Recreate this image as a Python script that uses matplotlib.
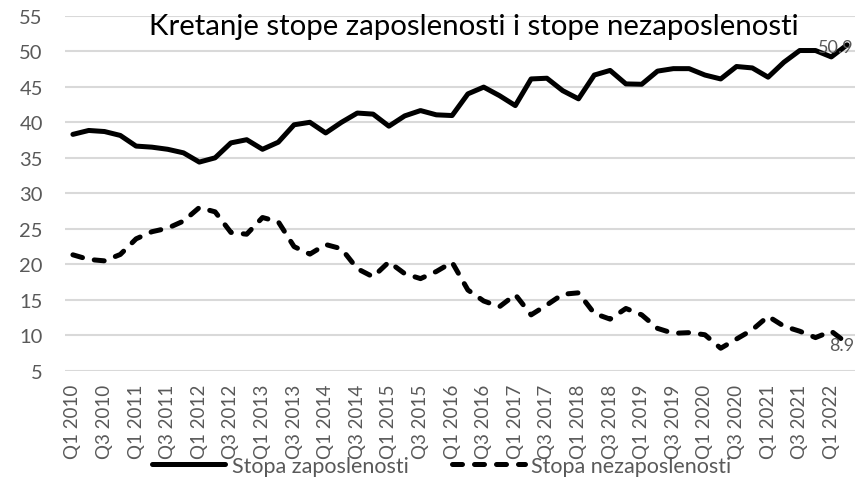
import matplotlib

matplotlib.use("Agg")
import matplotlib.pyplot as plt

plt.rcParams["font.family"] = ["Lato", "DejaVu Sans"]

# quarterly data, Q1 2010 .. Q2 2022
quarters = [f"Q{q} {y}" for y in range(2010, 2023) for q in (1, 2, 3, 4)][:50]

zaposlenost = [
    38.3, 38.85, 38.7, 38.15, 36.65, 36.5, 36.2, 35.7, 34.4, 35.0,
    37.1, 37.55, 36.2, 37.2, 39.65, 40.0, 38.5, 40.0, 41.3, 41.15,
    39.45, 40.9, 41.65, 41.05, 40.95, 44.0, 44.95, 43.75, 42.35, 46.1,
    46.2, 44.45, 43.3, 46.65, 47.3, 45.4, 45.35, 47.2, 47.55, 47.55,
    46.65, 46.1, 47.85, 47.65, 46.35, 48.45, 50.1, 50.1, 49.2, 50.9,
]
nezaposlenost = [
    21.35, 20.7, 20.5, 21.4, 23.6, 24.6, 25.1, 26.1, 28.0, 27.4,
    24.5, 24.25, 26.6, 26.0, 22.5, 21.45, 22.8, 22.2, 19.4, 18.25,
    20.35, 18.7, 18.0, 19.0, 20.3, 16.4, 14.85, 14.05, 15.75, 12.9,
    14.3, 15.8, 16.0, 13.1, 12.3, 13.8, 12.9, 11.0, 10.3, 10.4,
    10.1, 8.2, 9.5, 10.8, 12.7, 11.3, 10.6, 9.7, 10.6, 8.9,
]

title = "Kretanje stope zaposlenosti i stope nezaposlenosti"
label_zap = "Stopa zaposlenosti"
label_nezap = "Stopa nezaposlenosti"

GRAY = "#595959"
GRID = "#d9d9d9"

fig = plt.figure(figsize=(8.62, 4.81), dpi=100)
ax = fig.add_axes([65 / 862, 1 - 372 / 481, 790 / 862, (372 - 16.7) / 481])

x = list(range(len(quarters)))
ax.plot(x, zaposlenost, color="black", linewidth=3.6, solid_capstyle="round",
        solid_joinstyle="round", label=label_zap, zorder=3)
ax.plot(x, nezaposlenost, color="black", linewidth=3.6, linestyle=(0, (2.0, 2.4)),
        dash_capstyle="round", dash_joinstyle="round", label=label_nezap, zorder=3)

ax.set_xlim(-0.5, len(quarters) - 0.5)
ax.set_ylim(5, 55)
ax.set_yticks(range(5, 56, 5))
ax.set_xticks(x[::2])
ax.set_xticklabels(quarters[::2], rotation=90, fontsize=13.5, color=GRAY)
ax.tick_params(axis="y", length=0, pad=16, labelsize=14.5, labelcolor=GRAY)
ax.tick_params(axis="x", length=0, pad=9)
ax.grid(axis="y", color=GRID, linewidth=1.5)
ax.set_axisbelow(True)
for s in ax.spines.values():
    s.set_visible(False)

# end-of-series value labels
for series in (zaposlenost, nezaposlenost):
    ax.annotate(f"{series[-1]:.1f}", (x[-1], series[-1]), xytext=(7, -2),
                textcoords="offset pixels", ha="right", va="center",
                fontsize=13, color=GRAY, zorder=4)

fig.text(473.5 / 862, 1 - 27 / 481, title, ha="center", va="center",
         fontsize=21.2, color="black")

leg = fig.legend(loc="center", bbox_to_anchor=(442 / 862, 1 - 467 / 481), ncol=2,
                 frameon=False, fontsize=15.5, labelcolor=GRAY, handlelength=3.4,
                 handletextpad=0.3, columnspacing=2.0, borderpad=0)

fig.savefig("out.png", dpi=100)
